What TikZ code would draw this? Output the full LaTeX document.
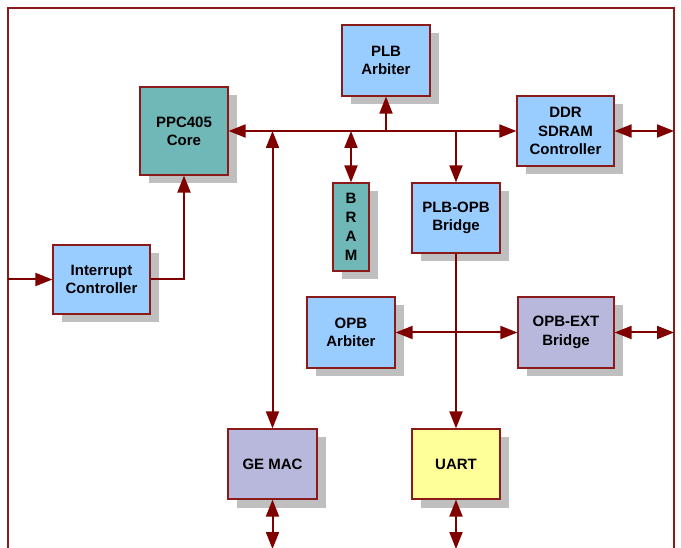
\documentclass[tikz,border=0pt]{standalone}
\usepackage{fontspec}
\setmainfont{Liberation Sans}
\usetikzlibrary{arrows.meta,shadows}
\definecolor{lblue}{HTML}{99CCFF}
\definecolor{teal2}{HTML}{70B8B8}
\definecolor{lav}{HTML}{B8B8DC}
\definecolor{lyel}{HTML}{FFFF99}
\definecolor{shad}{HTML}{BFBFBF}
\definecolor{bord}{HTML}{8B1A1A}
\definecolor{wire}{HTML}{800000}
\tikzset{
  blk/.style={draw=bord, line width=1.2pt, inner sep=0pt, align=center,
    font=\fontsize{15}{18.3}\selectfont\bfseries,
    drop shadow={shadow xshift=8.5pt, shadow yshift=-8.5pt, fill=shad, opacity=1}},
  wr/.style={draw=wire, line width=2pt, >={Triangle[length=17pt,width=13pt]}},
}
\begin{document}
\begin{tikzpicture}[x=1pt,y=-1pt]
\useasboundingbox (0,0) rectangle (681,548);
% frame
\draw[bord, line width=1.3pt] (8,548) -- (8,8) -- (674,8) -- (674,548);
\coordinate (rin1) at (674,131);
\coordinate (rin2) at (674,332.5);
\coordinate (lin) at (8,279.5);
\coordinate (bot1) at (272.5,549);
\coordinate (bot2) at (456,549);
% blocks
\node[blk, fill=lblue, minimum width=88pt, minimum height=71pt] (plbarb) at (386,60.5) {PLB\\Arbiter};
\node[blk, fill=teal2, minimum width=88pt, minimum height=88pt] (ppc) at (184,131) {PPC405\\Core};
\node[blk, fill=lblue, minimum width=97pt, minimum height=70pt] (ddr) at (565.5,131) {DDR\\SDRAM\\Controller};
\node[blk, fill=teal2, minimum width=36pt, minimum height=88pt, font=\fontsize{15}{19}\selectfont\bfseries] (bram) at (351,227) {B\\R\\A\\M};
\node[blk, fill=lblue, minimum width=88pt, minimum height=70pt] (bridge) at (456,218) {PLB-OPB\\Bridge};
\node[blk, fill=lblue, minimum width=97pt, minimum height=69pt] (ic) at (101.5,279.5) {Interrupt\\Controller};
\node[blk, fill=lblue, minimum width=88pt, minimum height=71pt] (opbarb) at (351,332.5) {OPB\\Arbiter};
\node[blk, fill=lav, minimum width=96pt, minimum height=71pt] (opbext) at (566,332.5) {OPB-EXT\\Bridge};
\node[blk, fill=lav, minimum width=89pt, minimum height=70pt] (gemac) at (272.5,464) {GE MAC};
\node[blk, fill=lyel, minimum width=88pt, minimum height=70pt] (uart) at (456,464) {UART};
% connectors
\draw[wr,<->] (ppc.east) -- (ddr.west);
\draw[wr,->] (plbarb.south |- ppc.east) -- (plbarb.south);
\draw[wr,<->] (bram.north |- ppc.east) -- (bram.north);
\draw[wr,->] (bridge.north |- ppc.east) -- (bridge.north);
\draw[wr,<->] (gemac.north |- ppc.east) -- (gemac.north);
\draw[wr,->] (bridge.south) -- (uart.north);
\draw[wr,<->] (opbarb.east) -- (opbext.west);
\draw[wr,<->] (opbext.east) -- (rin2);
\draw[wr,<->] (ddr.east) -- (rin1);
\draw[wr,->] (lin) -- (ic.west);
\draw[wr,->] (ic.east) -| (ppc.south);
\draw[wr,<->] (gemac.south) -- (bot1);
\draw[wr,<->] (uart.south) -- (bot2);
\end{tikzpicture}
\end{document}
